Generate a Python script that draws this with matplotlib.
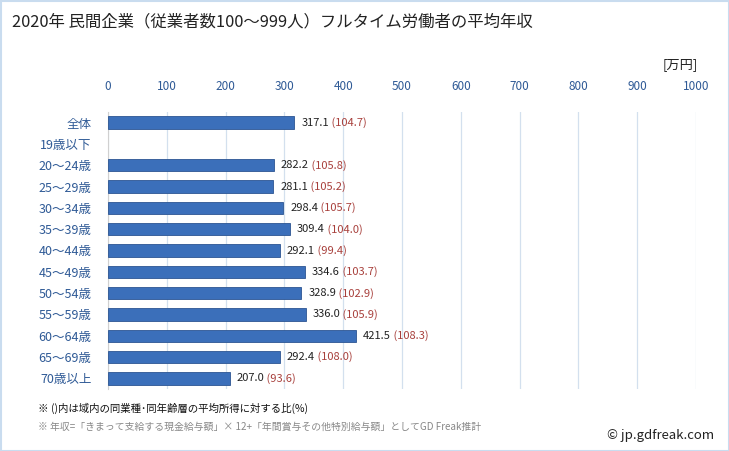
import matplotlib
matplotlib.use("Agg")
import matplotlib.pyplot as plt
import numpy as np

plt.rcParams['font.family'] = ['Noto Sans CJK JP', 'DejaVu Sans']

categories = ["全体", "19歳以下", "20～24歳", "25～29歳", "30～34歳", "35～39歳", "40～44歳",
              "45～49歳", "50～54歳", "55～59歳", "60～64歳", "65～69歳", "70歳以上"]
values = [317.1, None, 282.2, 281.1, 298.4, 309.4, 292.1, 334.6, 328.9, 336.0, 421.5, 292.4, 207.0]
ratios = [104.7, None, 105.8, 105.2, 105.7, 104.0, 99.4, 103.7, 102.9, 105.9, 108.3, 108.0, 93.6]
xticks = [0, 100, 200, 300, 400, 500, 600, 700, 800, 900, 1000]

title = "2020年 民間企業（従業者数100～999人）フルタイム労働者の平均年収"
unit = "[万円]"
note1 = "※ ()内は域内の同業種･同年齢層の平均所得に対する比(%)"
note2 = "※ 年収=「きまって支給する現金給与額」× 12+「年間賞与その他特別給与額」としてGD Freak推計"
credit = "© jp.gdfreak.com"

W, H = 729, 451
fig = plt.figure(figsize=(W / 100, H / 100), dpi=100)
fig.patch.set_facecolor("white")

# border
fig.add_artist(plt.Rectangle((0.5 / W, 0.5 / H), 1 - 1.0 / W, 1 - 1.0 / H, transform=fig.transFigure,
                             fill=False, edgecolor="#c9dcef", linewidth=1.5))

ax = fig.add_axes([108 / W, 1 - 389 / H, (696 - 108) / W, (389 - 112) / H])
n = len(categories)
y = np.arange(n)
vals = [v if v is not None else 0 for v in values]
lws = [0.6 if v is not None else 0 for v in values]
ax.barh(y, vals, height=0.58, color="#3b6fba", edgecolor="#2c5592", linewidth=lws, zorder=3)

ax.set_xlim(0, 1000)
ax.set_ylim(n - 0.5, -0.5)
ax.set_xticks(xticks)
ax.set_xticklabels([str(t) for t in xticks])
ax.xaxis.tick_top()
ax.tick_params(axis="x", length=0, pad=14, labelsize=8.5, labelcolor="#2f5a96")
ax.set_yticks(y)
ax.set_yticklabels(categories)
ax.tick_params(axis="y", length=0, pad=12, labelsize=9, labelcolor="#2f5a96")
ax.grid(axis="x", color="#d3e0ee", linewidth=0.9, zorder=0)
for s in ["top", "right", "bottom"]:
    ax.spines[s].set_visible(False)
ax.spines["left"].set_color("#d0d0d0")

for i, (v, r) in enumerate(zip(values, ratios)):
    if v is None:
        continue
    t = ax.annotate(f"{v:.1f}", xy=(v, i), xytext=(5, 0), textcoords="offset points",
                    va="center", ha="left", fontsize=8, color="#222222")
    ax.annotate(f" ({r:.1f})", xy=(1, 0.5), xycoords=t, va="center", ha="left",
                fontsize=8, color="#a8403c")

fig.text(12 / W, 1 - 22 / H, title, fontsize=11.8, color="#222222", va="center", ha="left")
fig.text(698 / W, 1 - 65 / H, unit, fontsize=9.5, color="#222222", va="center", ha="right")
fig.text(38 / W, 1 - 408 / H, note1, fontsize=7.5, color="#111111", va="center", ha="left")
fig.text(38 / W, 1 - 427 / H, note2, fontsize=7.1, color="#888888", va="center", ha="left")
fig.text(714 / W, 1 - 436 / H, credit, fontsize=9.5, color="#222222", va="center", ha="right")

fig.savefig("out.png", dpi=100)
